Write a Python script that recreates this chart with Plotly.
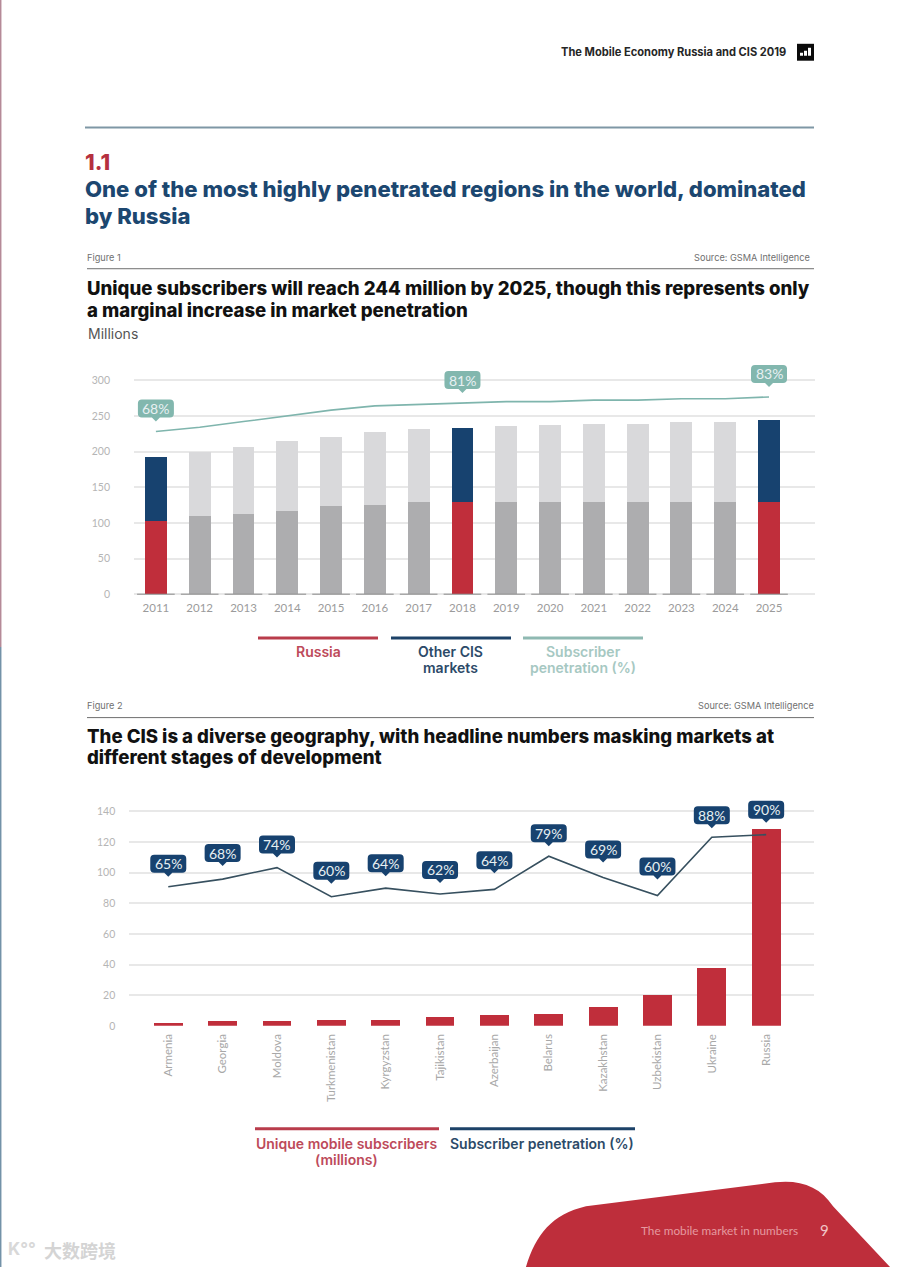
import plotly.graph_objects as go

PAGE_W = 900
PAGE_H = 1273

RED = '#c02e3b'
NAVY = '#17426f'
TEAL = '#7fb5ad'
GREY_DARK = '#adadaf'
GREY_LIGHT = '#d9d9db'
GRID = '#e8e8e8'
TICK = '#9b9b9b'
FONT = 'Inter'

# Figure 1
years = [2011, 2012, 2013, 2014, 2015, 2016, 2017, 2018, 2019, 2020, 2021, 2022, 2023, 2024, 2025]
russia = [102, 109, 112.5, 117, 123, 125, 129, 129, 129.5, 129.5, 129.5, 129.5, 129.5, 129.5, 129.5]
totals = [192.5, 200, 206.5, 215, 221, 227, 231, 233.5, 235.5, 237, 239, 239, 241.5, 241.5, 244]
other_cis = [t - r for t, r in zip(totals, russia)]
highlight_years = [2011, 2018, 2025]
penetration_level = [228, 234, 242, 250, 258, 264, 266, 268, 270, 270, 272, 272, 274, 274, 276.5]
callout_years = [2011, 2018, 2025]
callout_labels = ['68%', '81%', '83%']
ticks1 = [0, 50, 100, 150, 200, 250, 300]

# Figure 2
countries = ['Armenia', 'Georgia', 'Moldova', 'Turkmenistan', 'Kyrgyzstan', 'Tajikistan',
             'Azerbaijan', 'Belarus', 'Kazakhstan', 'Uzbekistan', 'Ukraine', 'Russia']
subscribers = [2, 3, 3, 4, 4, 6, 7, 8, 12.3, 20, 38, 128.5]
penetration_line = [90.7, 95.7, 103.2, 84.2, 89.8, 86, 89, 110.6, 96.8, 85, 123, 124.7]
penetration_labels = ['65%', '68%', '74%', '60%', '64%', '62%', '64%', '79%', '69%', '60%', '88%', '90%']
ticks2 = [0, 20, 40, 60, 80, 100, 120, 140]


def px_x(x):
    return x / PAGE_W


def px_y(y):
    return 1 - y / PAGE_H


def page_text(fig, x, y, text, size, color, weight=400, anchor='left', family=FONT):
    # annotations carry about 2px of padding, take it back so x is where the ink starts
    pad = {'left': -2, 'right': 2, 'center': 0}[anchor]
    fig.add_annotation(xref='paper', yref='paper', x=px_x(x + pad), y=px_y(y), text=text, showarrow=False,
                       xanchor=anchor, yanchor='middle', align=anchor,
                       font=dict(family=family, size=size, color=color, weight=weight))


def page_line(fig, x0, x1, y, color, width):
    fig.add_shape(type='line', xref='paper', yref='paper', x0=px_x(x0), x1=px_x(x1),
                  y0=px_y(y), y1=px_y(y), line=dict(color=color, width=width))


def callout(fig, xref, yref, x, y, text, color, gap):
    # rounded box with a small pointer, sized in pixels and anchored on the data point
    w, h, r = 18, 18, 4
    b = gap + 4
    t = b + h
    path = (f'M {-w + r} {b} L -4 {b} L 0 {gap} L 4 {b} L {w - r} {b} Q {w} {b} {w} {b + r} '
            f'L {w} {t - r} Q {w} {t} {w - r} {t} L {-w + r} {t} Q {-w} {t} {-w} {t - r} '
            f'L {-w} {b + r} Q {-w} {b} {-w + r} {b} Z')
    fig.add_shape(type='path', xref=xref, yref=yref, xsizemode='pixel', ysizemode='pixel',
                  xanchor=x, yanchor=y, path=path, fillcolor=color, line=dict(width=0), layer='above')
    fig.add_annotation(xref=xref, yref=yref, x=x, y=y, text=text, showarrow=False, yanchor='middle',
                       yshift=b + h / 2, font=dict(family='Lato', size=14, color='#e8f0f2'))


fig = go.Figure()

# Figure 1 bars and line
fig.add_trace(go.Bar(x=years, y=russia, width=0.5, xaxis='x', yaxis='y', name='Russia',
                     marker=dict(color=[RED if yr in highlight_years else GREY_DARK for yr in years], line_width=0)))
fig.add_trace(go.Bar(x=years, y=other_cis, width=0.5, xaxis='x', yaxis='y', name='Other CIS markets',
                     marker=dict(color=[NAVY if yr in highlight_years else GREY_LIGHT for yr in years], line_width=0)))
fig.add_trace(go.Scatter(x=years, y=penetration_level, mode='lines', xaxis='x', yaxis='y',
                         name='Subscriber penetration (%)', line=dict(color=TEAL, width=1.6)))

# Figure 2 bars and line
fig.add_trace(go.Bar(x=countries, y=subscribers, width=0.53, xaxis='x2', yaxis='y2',
                     name='Unique mobile subscribers (millions)', marker=dict(color=RED, line_width=0)))
fig.add_trace(go.Scatter(x=countries, y=penetration_line, mode='lines', xaxis='x2', yaxis='y2',
                         name='Subscriber penetration (%)', line=dict(color='#37505f', width=1.6)))

fig.update_layout(
    width=PAGE_W, height=PAGE_H, margin=dict(l=0, r=0, t=0, b=0), showlegend=False,
    paper_bgcolor='white', plot_bgcolor='white', barmode='stack',
    font=dict(family=FONT),
    xaxis=dict(domain=[px_x(134), px_x(815)], anchor='y', range=[2010.5, 2026.05], tickvals=years,
               showgrid=False, zeroline=False, ticks='', ticklabelstandoff=3,
               tickfont=dict(family='Lato', size=11.5, color=TICK)),
    yaxis=dict(domain=[px_y(599.15), px_y(360.5)], anchor='x', range=[-3, 330], tickvals=ticks1,
               gridcolor=GRID, gridwidth=1.5, zeroline=False, showline=False, ticklabelstandoff=23,
               tickfont=dict(family='Lato', size=10.5, color='#b5b5b5')),
    xaxis2=dict(domain=[px_x(129.3), px_x(814)], anchor='y2', range=[-0.717, 11.88], type='category',
                categoryorder='array', categoryarray=countries, tickangle=-90, ticklabelstandoff=5,
                showgrid=False, zeroline=False, tickfont=dict(family='Lato', size=11.5, color='#a8a8a8')),
    yaxis2=dict(domain=[px_y(1030.7), px_y(791.9)], anchor='x2', range=[0, 155], tickvals=ticks2,
                gridcolor=GRID, gridwidth=1.5, zeroline=False, showline=False, ticklabelstandoff=13,
                tickfont=dict(family='Lato', size=10.5, color='#b5b5b5')),
)

# short dark baseline pieces under each year in figure 1
for yr in years:
    fig.add_shape(type='line', xref='x', yref='y', x0=yr - 0.43, x1=yr + 0.43, y0=0, y1=0,
                  line=dict(color='#8c8c8c', width=1), layer='above')

for yr, label in zip(callout_years, callout_labels):
    callout(fig, 'x', 'y', yr, penetration_level[years.index(yr)], label, '#82b7ae', 10)

tip_gaps = [10, 13, 10, 13, 12, 11, 16, 10, 15, 16, 9, 12]
for name, level, label, gap in zip(countries, penetration_line, penetration_labels, tip_gaps):
    callout(fig, 'x2', 'y2', name, level, label, NAVY, gap)

# page furniture
page_text(fig, 786, 52, 'The Mobile Economy Russia and CIS 2019', 11.1, '#262626', 700, 'right')
fig.add_shape(type='rect', xref='paper', yref='paper', x0=px_x(797), x1=px_x(814), y0=px_y(61), y1=px_y(44),
              fillcolor='#0b0b0b', line_width=0)
for x0, x1, top in [(800, 803, 53), (804, 807, 51), (808, 811, 48)]:
    fig.add_shape(type='rect', xref='paper', yref='paper', x0=px_x(x0), x1=px_x(x1), y0=px_y(56), y1=px_y(top),
                  fillcolor='white', line_width=0)
page_line(fig, 85, 814, 128, '#7f97a5', 2)
fig.add_shape(type='line', xref='paper', yref='paper', x0=px_x(0.7), x1=px_x(0.7), y0=px_y(0), y1=px_y(650),
              line=dict(color='#b58a98', width=1.5))
fig.add_shape(type='line', xref='paper', yref='paper', x0=px_x(0.7), x1=px_x(0.7), y0=px_y(650), y1=px_y(1273),
              line=dict(color='#7392a8', width=1.5))

page_text(fig, 85, 163, '1.1', 22, '#b5303f', 800)
page_text(fig, 85, 190, 'One of the most highly penetrated regions in the world, dominated', 22.1, '#1c4770', 800)
page_text(fig, 85, 217, 'by Russia', 22.1, '#1c4770', 800)

page_text(fig, 87, 259, 'Figure 1', 9.2, '#707070')
page_text(fig, 810, 259, 'Source: GSMA Intelligence', 9.2, '#707070', anchor='right')
page_line(fig, 87, 814, 270, '#6f6f6f', 1)
page_text(fig, 87, 289, 'Unique subscribers will reach 244 million by 2025, though this represents only', 18.6, '#111111', 800)
page_text(fig, 87, 311, 'a marginal increase in market penetration', 18.6, '#111111', 800)
page_text(fig, 88, 335, 'Millions', 14, '#555555')

page_line(fig, 258, 378, 641, '#b93c4b', 3)
page_line(fig, 391, 511, 641, '#1d4268', 3)
page_line(fig, 523, 643, 641, '#8fb9b2', 3)
page_text(fig, 318, 655, 'Russia', 14, '#bd4a5a', 600, 'center')
page_text(fig, 451, 655, 'Other CIS', 14, '#2c4a68', 600, 'center')
page_text(fig, 451, 671, 'markets', 14, '#2c4a68', 600, 'center')
page_text(fig, 583, 655, 'Subscriber', 14, '#a6c8c2', 600, 'center')
page_text(fig, 583, 671, 'penetration (%)', 14, '#a6c8c2', 600, 'center')

page_text(fig, 87, 709, 'Figure 2', 9.2, '#707070')
page_text(fig, 814, 709, 'Source: GSMA Intelligence', 9.2, '#707070', anchor='right')
page_line(fig, 87, 814, 721, '#6f6f6f', 1)
page_text(fig, 87, 739, 'The CIS is a diverse geography, with headline numbers masking markets at', 18.6, '#111111', 800)
page_text(fig, 87, 761, 'different stages of development', 18.6, '#111111', 800)

page_line(fig, 255, 439, 1134, '#b93c4b', 3)
page_line(fig, 450, 635, 1134, '#1d4268', 3)
page_text(fig, 346, 1149, 'Unique mobile subscribers', 14, '#bd4a5a', 600, 'center')
page_text(fig, 346, 1165, '(millions)', 14, '#bd4a5a', 600, 'center')
page_text(fig, 542, 1149, 'Subscriber penetration (%)', 14, '#2c4a68', 600, 'center')

# red footer blob
blob = [(526, 1273), (536, 1240), (552, 1220), (586, 1212), (775, 1188), (800, 1185), (820, 1192), (833, 1212), (890, 1273)]
p = [f'{px_x(x):.4f} {px_y(y):.4f}' for x, y in blob]
fig.add_shape(type='path', xref='paper', yref='paper', fillcolor='#be2e3b', line_width=0,
              path=f'M {p[0]} C {p[1]} {p[2]} {p[3]} L {p[4]} C {p[5]} {p[6]} {p[7]} L {p[8]} Z')
page_text(fig, 798, 1236, 'The mobile market in numbers', 11.8, '#e59aa0', anchor='right', family='Lato')
page_text(fig, 824, 1236, '9', 15, '#f1c4c6', anchor='center', family='Lato')

# watermark
page_text(fig, 8, 1255, 'K°°', 17, '#d8d8d8', 700)
page_text(fig, 44, 1256, '大数跨境', 18, '#d4d4d4', 700, family='Noto Sans CJK SC')

# no page margin or scrollbars, the figure fills the window exactly
page_css = ("document.documentElement.style.overflow='hidden';"
            "document.body.style.overflow='hidden';"
            "document.body.style.margin='0';"
            "document.body.style.height='1273px';")
fig.write_html("out.html", config={'displayModeBar': False}, post_script=page_css)
